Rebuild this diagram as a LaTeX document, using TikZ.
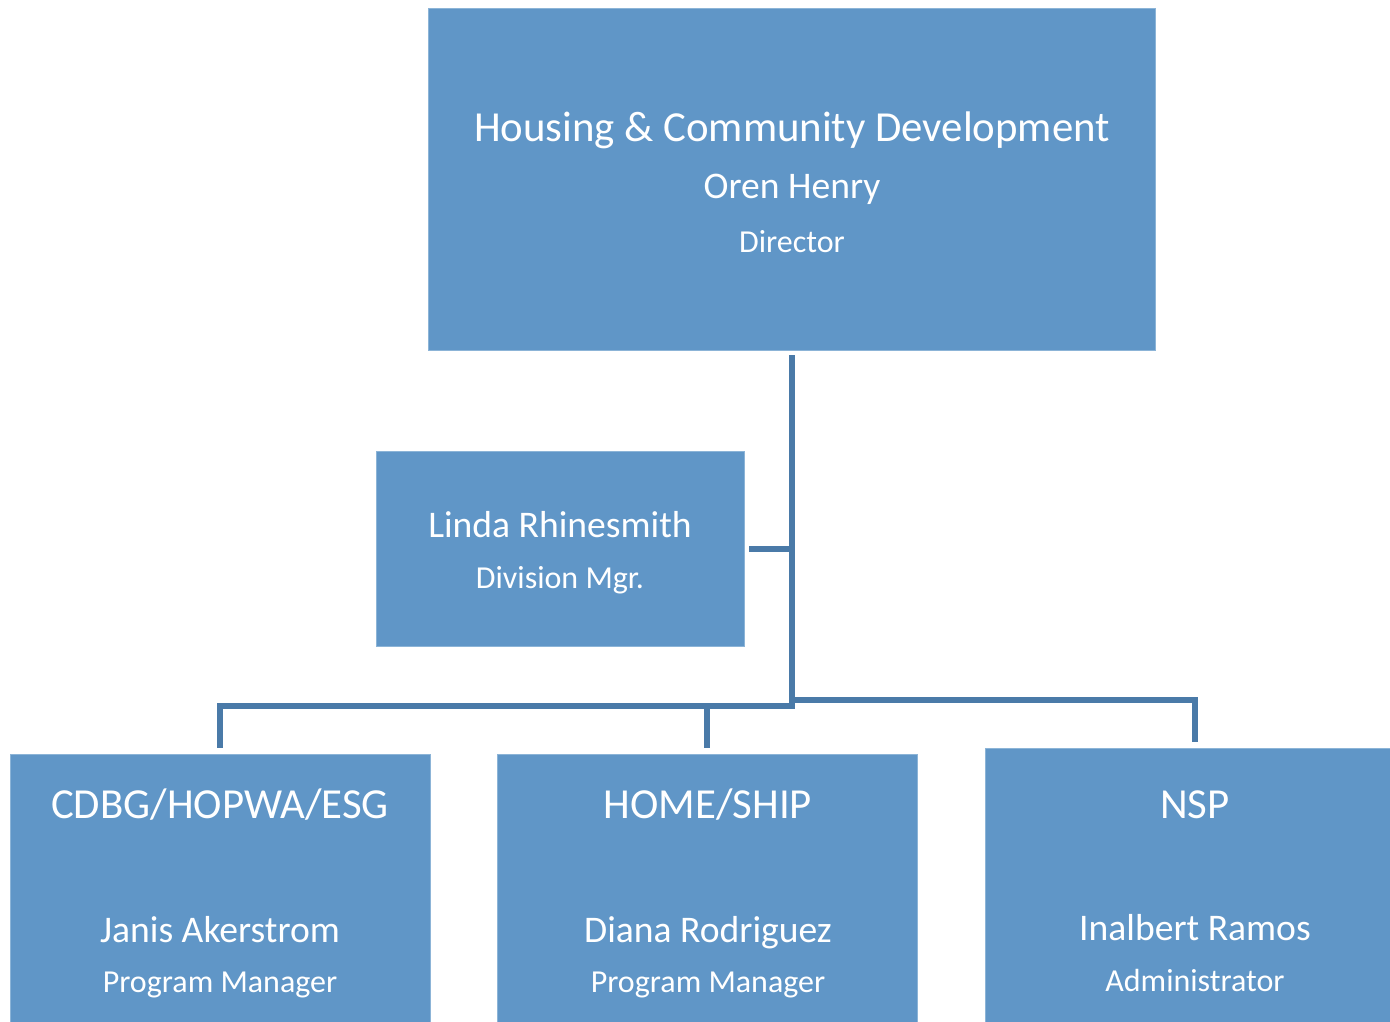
\documentclass[tikz,border=0pt]{standalone}
\usepackage{fontspec}
\setmainfont{Carlito}
\definecolor{boxfill}{RGB}{96,150,199}
\definecolor{boxedge}{RGB}{140,180,215}
\definecolor{linkcol}{RGB}{74,122,168}
\tikzset{
  orgbox/.style={draw=boxedge, line width=1pt, fill=boxfill, inner sep=0pt, minimum width=#1},
  big/.style={text=white, anchor=base, inner sep=0pt, font=\fontsize{42.8}{48}\selectfont},
  mid/.style={text=white, anchor=base, inner sep=0pt, font=\fontsize{37.6}{42}\selectfont},
  small/.style={text=white, anchor=base, inner sep=0pt, font=\fontsize{32}{36}\selectfont},
  link/.style={draw=linkcol, line width=6pt, line cap=butt, line join=miter}
}
\begin{document}
\begin{tikzpicture}[x=1pt,y=-1pt]
\useasboundingbox (0,0) rectangle (1390,1021);
\clip (0,0) rectangle (1390,1021);
% boxes
\node[orgbox=727pt, minimum height=342pt] (hcd) at (791.5,179) {};
\node[orgbox=368pt, minimum height=195pt] (linda) at (560,548.5) {};
\node[orgbox=420pt, minimum height=280pt] (cdbg) at (220,894) {};
\node[orgbox=420pt, minimum height=280pt] (home) at (707,894) {};
\node[orgbox=405pt, minimum height=286pt] (nsp) at (1187.5,891) {};
% texts
\node[big] (t1) at (792,141) {Housing \& Community Development};
\node[mid] (t2) at (792,198) {Oren Henry};
\node[small] (t3) at (792,252) {Director};
\node[mid] (t4) at (560,537) {Linda Rhinesmith};
\node[small] (t5) at (560,588) {Division Mgr.};
\node[big] (t6) at (220,818) {CDBG/HOPWA/ESG};
\node[mid] (t7) at (220,942) {Janis Akerstrom};
\node[small] (t8) at (220,992) {Program Manager};
\node[big] (t9) at (708,818) {HOME/SHIP};
\node[mid] (t10) at (708,942) {Diana Rodriguez};
\node[small] (t11) at (708,992) {Program Manager};
\node[big] (t12) at (1195,818) {NSP};
\node[mid] (t13) at (1195,940) {Inalbert Ramos};
\node[small] (t14) at (1195,991) {Administrator};
% connector points
\coordinate (top) at (792,355);
\coordinate (jl) at (792,549);
\coordinate (la) at (749,549);
\coordinate (jb) at (792,706);
\coordinate (jr) at (792,700);
\coordinate (dc) at (220,748);
\coordinate (dh) at (707,748);
\coordinate (dn) at (1195,742);
% connectors
\draw[link] (top) -- (792,709);
\draw[link] (la) -- (jl);
\draw[link] (jb) -| (dc);
\draw[link] (707,706) -- (dh);
\draw[link] (jr) -| (dn);
\end{tikzpicture}
\end{document}
